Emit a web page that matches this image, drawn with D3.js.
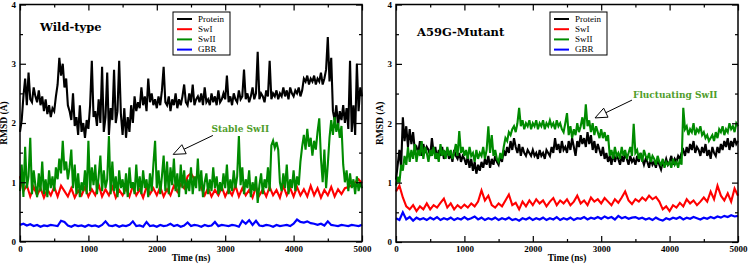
<!DOCTYPE html>
<html>
<head>
<meta charset="utf-8">
<script src="https://cdn.jsdelivr.net/npm/d3@7"></script>
<style>
  body { margin: 0; background: #fff; }
  svg { display: block; }
  .tick text { font-family: "Liberation Serif", serif; font-weight: bold; font-size: 9px; fill: #000; }
  .tick line { stroke: #000; stroke-width: 1.2; }
  .axis-title { font-family: "Liberation Serif", serif; font-weight: bold; font-size: 9.5px; }
  .panel-title { font-family: "DejaVu Serif", serif; font-weight: bold; font-size: 11.5px; }
  .legend-label { font-family: "Liberation Serif", serif; font-size: 9px; }
  .note { font-family: "DejaVu Serif", serif; font-weight: bold; font-size: 9px; fill: #4f9d2a; }
</style>
</head>
<body>
<div id="chart"></div>
<script>
// sampling grids (ns)
const times25 = d3.range(0, 5001, 25);
const times50 = d3.range(0, 5001, 50);

const seriesNames = ['Protein', 'SwI', 'SwII', 'GBR'];
const seriesColors = ['#000000', '#ff0000', '#008b00', '#0000ff'];
const xTicks = [0, 1000, 2000, 3000, 4000, 5000];
const yTicks = [0, 1, 2, 3, 4];

// Wild-type, 25 ns
const wtProtein = [
  1.85, 2.05, 2.45, 2.75, 2.3, 2.85, 2.4, 2.35, 2.6, 2.45,
  2.35, 2.55, 2.3, 2.45, 2.2, 2.4, 2.15, 2.3, 2.1, 2.25,
  2.2, 2.45, 2.65, 3.1, 2.8, 3.0, 2.6, 2.75, 2.3, 2.2,
  2.05, 2.5, 1.95, 2.1, 1.8, 2.3, 1.85, 2.0, 1.75, 2.05,
  1.9, 2.3, 3.05, 2.1, 2.2, 1.95, 2.4, 2.0, 2.95, 1.85,
  2.1, 2.85, 1.8, 2.25, 2.05, 2.9, 2.0, 2.2, 3.05, 2.15,
  1.8, 2.25, 1.75, 2.1, 1.85, 2.3, 2.0, 2.45, 2.2, 2.35,
  2.25, 2.6, 2.3, 2.45, 2.2, 2.75, 2.35, 2.5, 2.3, 2.4,
  2.25, 2.45, 2.3, 2.55, 2.95, 2.35, 2.3, 2.45, 2.2, 2.4,
  2.3, 2.5, 2.25, 2.4, 2.3, 2.45, 2.65, 2.35, 2.3, 2.5,
  2.35, 2.65, 2.3, 2.4, 2.45, 2.35, 2.5, 2.3, 2.6, 2.35,
  2.4, 2.3, 2.5, 2.35, 2.45, 2.3, 2.55, 2.35, 2.4, 2.5,
  2.4, 2.8, 2.35, 2.45, 2.3, 2.5, 2.4, 2.35, 2.55, 2.4,
  2.45, 2.9, 2.4, 2.5, 2.35, 2.45, 2.6, 2.4, 2.5, 3.2,
  2.4, 2.5, 2.45, 2.35, 2.55, 2.45, 3.05, 2.4, 2.5, 2.45,
  2.55, 2.4, 2.5, 2.45, 2.6, 2.45, 2.55, 2.4, 2.6, 2.5,
  2.45, 2.55, 2.5, 2.6, 2.45, 2.55, 2.75, 2.7, 2.8, 2.65,
  2.75, 2.7, 2.8, 2.65, 2.75, 2.7, 2.85, 2.65, 2.75, 2.9,
  3.45, 2.7, 3.1, 2.2, 2.05, 2.3, 1.95, 2.2, 2.05, 2.3,
  2.0, 2.25, 1.9, 3.05, 1.85, 2.3, 1.8, 3.0, 2.2, 2.6,
  2.45
];
const wtSwII = [
  0.85, 1.3, 0.75, 1.6, 0.9, 1.1, 1.75, 0.8, 1.2, 0.95,
  0.75, 1.15, 0.85, 1.35, 0.8, 1.05, 0.75, 1.2, 0.9, 1.1,
  0.85, 1.25, 1.05, 1.4, 1.15, 1.7, 1.2, 1.35, 1.05, 1.25,
  1.55, 0.9, 1.3, 0.8, 1.15, 0.75, 1.0, 0.85, 1.2, 0.8,
  1.7, 0.85, 1.25, 0.95, 1.3, 0.8, 1.1, 1.45, 0.85, 1.2,
  0.9, 1.05, 1.78, 0.8, 1.35, 0.85, 1.1, 0.75, 1.2, 0.9,
  1.05, 0.8, 1.15, 0.75, 1.25, 0.9, 1.0, 0.8, 1.3, 0.85,
  1.1, 0.8, 1.2, 0.9, 1.05, 0.75, 1.15, 0.85, 1.3, 1.7,
  0.9, 1.2, 0.8, 1.1, 1.45, 0.85, 1.35, 0.8, 1.25, 0.95,
  1.4, 0.85, 1.15, 0.75, 1.3, 0.9, 1.2, 0.8, 1.05, 0.85,
  1.25, 0.8, 1.1, 0.9, 1.4, 0.85, 1.2, 0.75, 1.0, 1.15,
  0.8, 1.05, 0.85, 1.25, 0.9, 1.1, 0.8, 1.0, 0.85, 1.15,
  0.9, 1.3, 0.8, 1.05, 0.85, 1.2, 0.9, 1.1, 1.78, 0.95,
  1.25, 0.8, 1.05, 0.9, 1.2, 0.75, 1.0, 0.85, 1.1, 0.65,
  0.95, 1.15, 0.8, 1.05, 0.9, 1.25, 0.85, 1.62, 1.7, 1.58,
  1.68, 1.55, 1.0, 0.85, 1.15, 0.9, 1.3, 0.8, 1.05, 0.9,
  1.2, 0.85, 1.1, 0.95, 1.35, 1.6, 1.8, 1.55, 1.9, 1.6,
  1.75, 1.45, 1.7, 1.55, 1.85, 2.08, 1.4, 1.0, 1.55, 0.9,
  1.3, 1.75, 2.05, 1.8, 2.1, 1.85, 2.0, 1.75, 1.95, 1.3,
  1.0, 1.2, 0.85, 1.15, 0.9, 1.05, 0.8, 1.1, 0.85, 1.0,
  0.9
];
// Wild-type, 50 ns
const wtSwI = [
  1.1, 0.85, 0.95, 0.76, 0.92, 0.78, 0.9, 0.74, 0.88, 0.78,
  0.92, 0.76, 0.94, 0.85, 0.76, 0.9, 0.74, 0.86, 0.78, 0.92,
  0.76, 0.88, 0.78, 0.96, 0.76, 0.88, 0.78, 0.92, 0.74, 0.87,
  0.78, 0.9, 0.76, 0.94, 0.78, 0.88, 0.74, 0.92, 0.8, 0.9,
  0.78, 0.92, 0.76, 0.88, 0.78, 0.94, 0.84, 0.97, 0.9, 1.1,
  1.15, 1.05, 1.12, 0.9, 0.78, 0.9, 0.76, 0.87, 0.78, 0.92,
  0.76, 0.88, 0.78, 0.94, 0.76, 0.9, 0.78, 0.87, 0.74, 0.92,
  0.78, 0.88, 0.76, 0.92, 0.78, 0.87, 0.74, 0.94, 0.78, 0.9,
  0.76, 0.92, 0.78, 0.88, 0.76, 0.94, 0.78, 0.9, 0.74, 0.87,
  0.78, 0.92, 0.76, 0.88, 0.8, 0.9, 0.92, 0.95, 1.0, 1.05,
  0.98
];
const wtGBR = [
  0.28, 0.3, 0.27, 0.29, 0.26, 0.28, 0.25, 0.27, 0.26, 0.28,
  0.27, 0.26, 0.35, 0.33, 0.27, 0.25, 0.28, 0.26, 0.27, 0.25,
  0.28, 0.26, 0.27, 0.25, 0.28, 0.34, 0.27, 0.26, 0.28, 0.25,
  0.27, 0.26, 0.28, 0.34, 0.26, 0.27, 0.25, 0.33, 0.26, 0.27,
  0.25, 0.28, 0.26, 0.27, 0.3, 0.26, 0.28, 0.25, 0.27, 0.32,
  0.26, 0.28, 0.27, 0.25, 0.28, 0.26, 0.27, 0.33, 0.26, 0.28,
  0.27, 0.26, 0.28, 0.27, 0.25, 0.35, 0.3, 0.36, 0.28, 0.35,
  0.27, 0.26, 0.28, 0.27, 0.25, 0.28, 0.26, 0.27, 0.28, 0.26,
  0.3, 0.37, 0.33, 0.32, 0.34, 0.31, 0.3, 0.28, 0.3, 0.27,
  0.34, 0.28, 0.27, 0.26, 0.28, 0.27, 0.26, 0.28, 0.27, 0.26,
  0.28
];

// A59G mutant, 25 ns
const mutProtein = [
  1.05, 1.3, 1.55, 1.25, 2.1, 1.7, 1.95, 1.6, 1.9, 1.65,
  1.85, 1.55, 1.6, 1.5, 1.7, 1.45, 1.65, 1.5, 1.6, 1.55,
  1.45, 1.75, 1.5, 1.6, 1.4, 1.55, 1.45, 1.6, 1.4, 1.5,
  1.55, 1.4, 1.5, 1.35, 1.55, 1.45, 1.4, 1.5, 1.35, 1.45,
  1.4, 1.3, 1.45, 1.25, 1.4, 1.2, 1.35, 1.15, 1.3, 1.2,
  1.35, 1.25, 1.4, 1.3, 1.45, 1.25, 1.4, 1.3, 1.45, 1.35,
  1.3, 1.45, 1.35, 1.55, 1.45, 1.6, 1.5, 1.7, 1.55, 1.75,
  1.6, 1.5, 1.65, 1.45, 1.6, 1.5, 1.45, 1.55, 1.5, 1.45,
  1.55, 1.45, 1.5, 1.4, 1.55, 1.45, 1.5, 1.4, 1.55, 1.5,
  1.45, 1.6, 1.5, 1.75, 1.55, 1.65, 1.5, 1.7, 1.55, 1.6,
  1.5, 1.7, 1.55, 1.75, 1.6, 1.45, 1.7, 1.6, 1.8, 1.65,
  1.75, 1.6, 1.85, 1.65, 1.8, 1.55, 1.7, 1.5, 1.65, 1.55,
  1.45, 1.6, 1.4, 1.5, 1.35, 1.45, 1.3, 1.5, 1.35, 1.45,
  1.4, 1.3, 1.45, 1.35, 1.5, 1.4, 1.3, 1.45, 1.35, 1.4,
  1.3, 1.45, 1.35, 1.5, 1.4, 1.3, 1.4, 1.35, 1.25, 1.4,
  1.3, 1.35, 1.25, 1.4, 1.3, 1.22, 1.35, 1.3, 1.4, 1.3,
  1.35, 1.45, 1.3, 1.4, 1.35, 1.45, 1.4, 1.5, 1.55, 1.45,
  1.6, 1.5, 1.65, 1.55, 1.7, 1.5, 1.6, 1.55, 1.45, 1.6,
  1.5, 1.65, 1.45, 1.55, 1.4, 1.6, 1.5, 1.45, 1.6, 1.5,
  1.65, 1.55, 1.7, 1.6, 1.75, 1.55, 1.7, 1.6, 1.75, 1.65,
  1.7
];
const mutSwII = [
  0.95, 1.1, 1.0, 1.3, 1.2, 1.45, 1.3, 1.6, 1.35, 1.55,
  1.4, 1.65, 1.35, 1.55, 1.45, 1.7, 1.4, 1.6, 1.5, 1.35,
  1.55, 1.45, 1.6, 1.4, 1.5, 1.35, 1.65, 1.45, 1.55, 1.4,
  1.6, 1.45, 1.55, 1.4, 1.5, 1.65, 1.45, 1.87, 1.5, 1.6,
  1.45, 1.55, 1.4, 1.6, 1.45, 1.5, 1.35, 1.55, 1.4, 1.5,
  1.45, 1.6, 1.4, 1.55, 1.95, 1.5, 1.8, 1.45, 1.55, 1.4,
  1.35, 1.5, 1.4, 1.6, 1.75, 1.7, 1.85, 1.8, 1.9, 1.95,
  1.85, 2.0, 2.26, 1.95, 2.05, 1.9, 2.0, 1.95, 2.05, 1.9,
  2.0, 1.95, 2.05, 1.9, 2.0, 1.95, 2.05, 1.9, 2.0, 1.95,
  2.05, 1.95, 2.0, 1.9, 2.05, 1.95, 2.0, 1.9, 1.85, 2.0,
  2.17, 1.8, 1.95, 1.75, 1.9, 1.8, 2.0, 1.85, 1.95, 2.1,
  1.9, 2.32, 1.95, 2.05, 1.85, 2.0, 1.8, 1.95, 1.85, 1.75,
  1.9, 1.75, 1.85, 1.7, 1.8, 1.45, 1.55, 1.4, 1.6, 1.45,
  1.5, 1.4, 1.6, 1.45, 1.55, 1.4, 1.5, 1.6, 1.45, 1.99,
  1.5, 1.55, 1.4, 1.5, 1.35, 1.55, 1.45, 1.4, 1.5, 1.35,
  1.45, 1.4, 1.3, 1.45, 1.35, 1.3, 1.4, 1.25, 1.35, 1.3,
  1.35, 1.25, 1.4, 1.3, 1.35, 1.25, 1.4, 1.3, 2.26, 1.9,
  1.95, 1.8, 1.9, 1.85, 2.0, 1.8, 1.9, 1.85, 1.95, 1.8,
  1.85, 1.75, 1.8, 1.7, 1.75, 1.8, 1.7, 1.85, 1.75, 1.9,
  1.85, 1.95, 1.8, 1.9, 1.85, 2.0, 1.9, 1.95, 1.85, 2.0,
  1.95
];
// A59G mutant, 50 ns
const mutSwI = [
  0.85, 0.95, 0.75, 0.6, 0.55, 0.62, 0.52, 0.6, 0.55, 0.65,
  0.55, 0.62, 0.58, 0.66, 0.73, 0.58, 0.65, 0.55, 0.62, 0.57,
  0.63, 0.58, 0.65, 0.6, 0.68, 0.87, 0.7, 0.78, 0.62, 0.58,
  0.65, 0.6, 0.7, 0.8, 0.62, 0.66, 0.55, 0.68, 0.6, 0.7,
  0.62, 0.72, 0.65, 0.7, 0.6, 0.68, 0.74, 0.62, 0.7, 0.65,
  0.72, 0.62, 0.68, 0.78, 0.65, 0.7, 0.62, 0.75, 0.68, 0.72,
  0.65, 0.74, 0.68, 0.62, 0.72, 0.66, 0.75, 0.85, 0.7, 0.64,
  0.72, 0.68, 0.75, 0.7, 0.78, 0.72, 0.76, 0.68, 0.55, 0.6,
  0.52, 0.62, 0.58, 0.66, 0.6, 0.72, 0.65, 0.7, 0.62, 0.68,
  0.75, 0.68, 0.85, 0.72, 0.95, 0.78, 0.7, 0.82, 0.68, 0.9,
  0.78
];
const mutGBR = [
  0.4, 0.37, 0.5, 0.38, 0.42, 0.36, 0.41, 0.38, 0.4, 0.37,
  0.41, 0.38, 0.42, 0.37, 0.4, 0.38, 0.41, 0.37, 0.4, 0.38,
  0.42, 0.38, 0.4, 0.43, 0.38, 0.41, 0.37, 0.4, 0.38, 0.41,
  0.37, 0.4, 0.38, 0.41, 0.37, 0.39, 0.36, 0.4, 0.38, 0.41,
  0.37, 0.4, 0.38, 0.41, 0.37, 0.4, 0.38, 0.42, 0.37, 0.4,
  0.38, 0.41, 0.37, 0.4, 0.39, 0.42, 0.38, 0.41, 0.39, 0.42,
  0.39, 0.43, 0.4, 0.42, 0.38, 0.44, 0.4, 0.42, 0.39, 0.41,
  0.42, 0.39, 0.41, 0.38, 0.4, 0.37, 0.41, 0.38, 0.36, 0.4,
  0.38, 0.41, 0.39, 0.42, 0.38, 0.41, 0.39, 0.42, 0.4, 0.38,
  0.41, 0.39, 0.42, 0.4, 0.43, 0.41, 0.44, 0.42, 0.45, 0.43,
  0.44
];

class RmsdPanel {

  constructor(_svg, _config, _series) {
    this.svg = _svg;
    this.config = _config;
    this.series = _series;
    this.initVis();
  }

  initVis() {
    let vis = this;
    const c = vis.config;

    vis.x = d3.scaleLinear().domain([0, 5000]).range([c.left, c.right]);
    vis.y = d3.scaleLinear().domain([0, 4]).range([c.bottom, c.top]);

    vis.g = vis.svg.append('g');

    // curves first, the frame and ticks go on top
    const line = d3.line()
        .x(d => vis.x(d[0]))
        .y(d => vis.y(d[1]));

    vis.g.selectAll('.series')
        .data(vis.series)
      .join('path')
        .attr('class', 'series')
        .attr('fill', 'none')
        .attr('stroke', d => d.color)
        .attr('stroke-width', d => d.name === 'GBR' ? 2.2 : 2.1)
        .attr('stroke-linejoin', 'miter')
        .attr('d', d => line(d.t.map((t, i) => [t, d.v[i]])));

    vis.renderAxes();
    vis.renderLegend();
    vis.renderNote();

    vis.g.append('text')
        .attr('class', 'panel-title')
        .attr('x', c.titleX)
        .attr('y', c.titleY)
        .text(c.title);
  }

  renderAxes() {
    let vis = this;
    const c = vis.config;
    const minorX = d3.range(500, 5000, 1000);
    const minorY = [0.5, 1.5, 2.5, 3.5];

    const addAxis = (axis, tx, ty, cls) => {
      const a = vis.g.append('g')
          .attr('class', cls)
          .attr('transform', `translate(${tx},${ty})`)
          .call(axis);
      a.select('.domain').remove();
      return a;
    };

    addAxis(d3.axisBottom(vis.x).tickValues(xTicks).tickSize(-6).tickPadding(4).tickFormat(d3.format('d')), 0, c.bottom, 'x-axis');
    addAxis(d3.axisBottom(vis.x).tickValues(minorX).tickSize(-3).tickFormat(''), 0, c.bottom, 'x-minor');
    addAxis(d3.axisTop(vis.x).tickValues(xTicks).tickSize(-6).tickFormat(''), 0, c.top, 'x-top');
    addAxis(d3.axisTop(vis.x).tickValues(minorX).tickSize(-3).tickFormat(''), 0, c.top, 'x-top-minor');
    addAxis(d3.axisLeft(vis.y).tickValues(yTicks).tickSize(-6).tickPadding(4).tickFormat(d3.format('d')), c.left, 0, 'y-axis');
    addAxis(d3.axisLeft(vis.y).tickValues(minorY).tickSize(-3).tickFormat(''), c.left, 0, 'y-minor');
    addAxis(d3.axisRight(vis.y).tickValues(yTicks).tickSize(-6).tickFormat(''), c.right, 0, 'y-right');
    addAxis(d3.axisRight(vis.y).tickValues(minorY).tickSize(-3).tickFormat(''), c.right, 0, 'y-right-minor');

    vis.g.append('rect')
        .attr('x', c.left)
        .attr('y', c.top)
        .attr('width', c.right - c.left)
        .attr('height', c.bottom - c.top)
        .attr('fill', 'none')
        .attr('stroke', '#000')
        .attr('stroke-width', 1.5);

    vis.g.append('text')
        .attr('class', 'axis-title')
        .attr('text-anchor', 'middle')
        .attr('x', (c.left + c.right) / 2)
        .attr('y', 261)
        .text('Time (ns)');

    vis.g.append('text')
        .attr('class', 'axis-title')
        .attr('text-anchor', 'middle')
        .attr('transform', `translate(${c.left - 13},${(c.top + c.bottom) / 2}) rotate(-90)`)
        .text('RMSD (A)');
  }

  renderLegend() {
    let vis = this;
    const c = vis.config;
    const lg = vis.g.append('g')
        .attr('transform', `translate(${c.legendX},${c.legendY})`);

    lg.append('rect')
        .attr('width', 57)
        .attr('height', 43)
        .attr('fill', '#fff')
        .attr('stroke', '#000')
        .attr('stroke-width', 1);

    const rows = lg.selectAll('.legend-row')
        .data(vis.series)
      .join('g')
        .attr('class', 'legend-row')
        .attr('transform', (d, i) => `translate(0,${7 + i * 10.2})`);

    rows.append('line')
        .attr('x1', 4)
        .attr('x2', 19)
        .attr('stroke', d => d.color)
        .attr('stroke-width', 2);

    rows.append('text')
        .attr('class', 'legend-label')
        .attr('x', 25)
        .attr('dy', '0.32em')
        .text(d => d.name);
  }

  renderNote() {
    let vis = this;
    const n = vis.config.note;

    vis.g.append('text')
        .attr('class', 'note')
        .attr('x', vis.x(n.at[0]))
        .attr('y', vis.y(n.at[1]))
        .text(n.text);

    const x1 = vis.x(n.from[0]), y1 = vis.y(n.from[1]);
    const x2 = vis.x(n.to[0]), y2 = vis.y(n.to[1]);
    const ang = Math.atan2(y2 - y1, x2 - x1);
    const headLen = 12, halfW = 5;
    const bx = x2 - headLen * Math.cos(ang), by = y2 - headLen * Math.sin(ang);

    vis.g.append('line')
        .attr('x1', x1).attr('y1', y1)
        .attr('x2', bx).attr('y2', by)
        .attr('stroke', '#000')
        .attr('stroke-width', 1);

    const pts = [
      [x2, y2],
      [bx + halfW * Math.sin(ang), by - halfW * Math.cos(ang)],
      [bx - halfW * Math.sin(ang), by + halfW * Math.cos(ang)]
    ];
    vis.g.append('polygon')
        .attr('points', pts.map(p => p.join(',')).join(' '))
        .attr('fill', '#fff')
        .attr('stroke', '#000')
        .attr('stroke-width', 1);
  }
}

const makeSeries = (values) => values.map((v, i) => ({
  name: seriesNames[i],
  color: seriesColors[i],
  t: v.length === times25.length ? times25 : times50,
  v: v
}));

const svg = d3.select('#chart').append('svg')
    .attr('width', 749)
    .attr('height', 266);

new RmsdPanel(svg, {
  left: 20, right: 362, top: 4.5, bottom: 241.5,
  title: 'Wild-type', titleX: 40, titleY: 31,
  legendX: 173, legendY: 12,
  note: { text: 'Stable SwII', at: [2800, 1.85], from: [2820, 1.79], to: [2240, 1.47] }
}, makeSeries([wtProtein, wtSwI, wtSwII, wtGBR]));

new RmsdPanel(svg, {
  left: 396, right: 738, top: 4.5, bottom: 242,
  title: 'A59G-Mutant', titleX: 417, titleY: 36,
  legendX: 550, legendY: 12,
  note: { text: 'Fluctuating SwII', at: [3465, 2.42], from: [3450, 2.39], to: [2910, 2.09] }
}, makeSeries([mutProtein, mutSwI, mutSwII, mutGBR]));
</script>
</body>
</html>
